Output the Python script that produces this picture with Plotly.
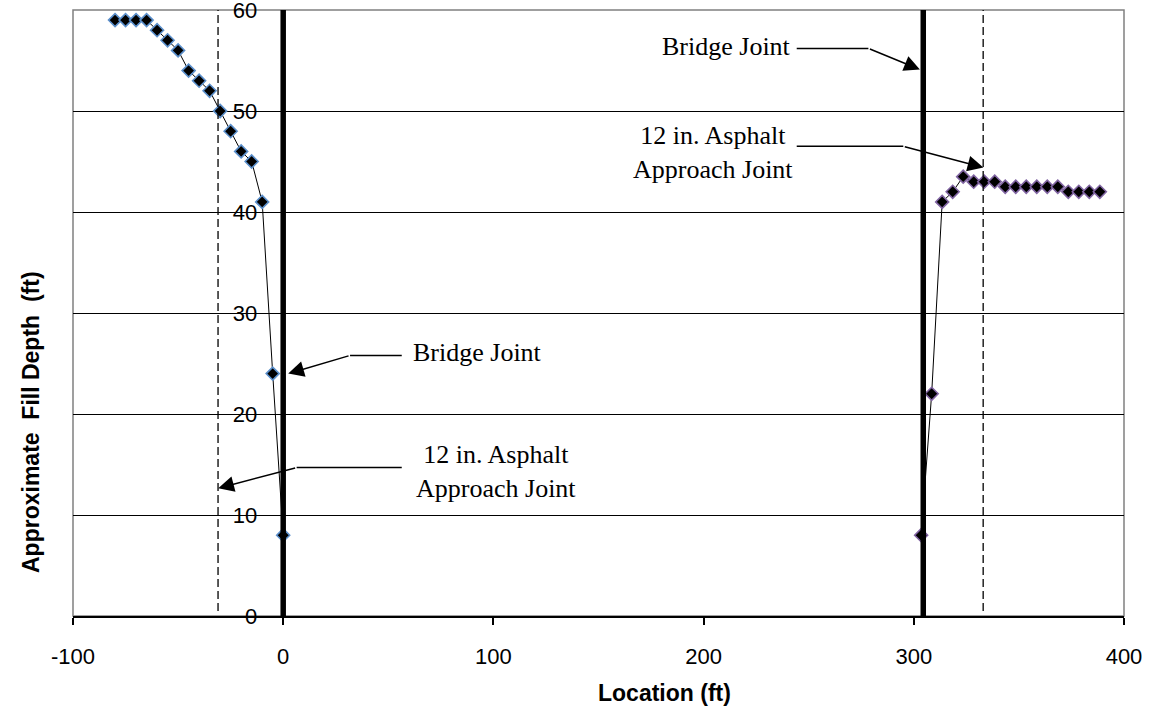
import plotly.graph_objects as go

# ---- data ----
left_x = [-80, -75, -70, -65, -60, -55, -50, -45, -40, -35, -30, -25, -20, -15, -10, -5, 0]
left_y = [59, 59, 59, 59, 58, 57, 56, 54, 53, 52, 50, 48, 46, 45, 41, 24, 8]
right_x = [303.5, 308.5, 313.5, 318.5, 323.5, 328.5, 333.5, 338.5, 343.5, 348.5,
           353.5, 358.5, 363.5, 368.5, 373.5, 378.5, 383.5, 388.5]
right_y = [8, 22, 41, 42, 43.5, 43, 43, 43, 42.5, 42.5, 42.5, 42.5, 42.5, 42.5, 42, 42, 42, 42]

bridge_joints = [0, 304.5]
asphalt_joints = [-31, 333]

x_ticks = [-100, 0, 100, 200, 300, 400]
x_tick_text = ["-100", "0", "100", "200", "300", "400"]
y_ticks = [0, 10, 20, 30, 40, 50, 60]

fig = go.Figure()

fig.add_trace(go.Scatter(
    x=left_x, y=left_y, mode="lines+markers",
    line=dict(color="black", width=1),
    marker=dict(symbol="diamond", size=10, color="black",
                line=dict(color="#5B8FCB", width=1.6)),
    showlegend=False))
fig.add_trace(go.Scatter(
    x=right_x, y=right_y, mode="lines+markers",
    line=dict(color="black", width=1),
    marker=dict(symbol="diamond", size=10, color="black",
                line=dict(color="#8064A2", width=1.6)),
    showlegend=False))

shapes = []
# plot area border (grey)
shapes.append(dict(type="rect", xref="paper", yref="paper", x0=0, x1=1, y0=0, y1=1,
                   line=dict(color="#808080", width=1.5), layer="below"))
for bx in bridge_joints:
    shapes.append(dict(type="line", xref="x", yref="y", x0=bx, x1=bx, y0=-0.3, y1=60,
                       line=dict(color="black", width=5.5)))
for ax in asphalt_joints:
    shapes.append(dict(type="line", xref="x", yref="y", x0=ax, x1=ax, y0=0.5, y1=60,
                       line=dict(color="black", width=1.3, dash="8px,4px")))

# leader horizontal segments
leaders = [
    (31.8, 56.4, 25.8),
    (6.4, 56.4, 14.7),
    (244.3, 278.4, 56.2),
    (244.3, 295.0, 46.5),
]
for x0, x1, yy in leaders:
    shapes.append(dict(type="line", xref="x", yref="y", x0=x0, x1=x1, y0=yy, y1=yy,
                       line=dict(color="black", width=1.5)))

annotations = []
arrows = [
    # (tip x, tip y, tail x, tail y)
    (2.4, 24.0, 31.8, 25.8),
    (-30.9, 12.65, 6.4, 14.7),
    (302.9, 54.1, 278.4, 56.2),
    (333.1, 44.4, 295.0, 46.5),
]
for tx, ty, sx, sy in arrows:
    annotations.append(dict(x=tx, y=ty, ax=sx, ay=sy, xref="x", yref="y",
                            axref="x", ayref="y", text="", showarrow=True,
                            arrowhead=2, arrowsize=2.1, arrowwidth=1.5,
                            arrowcolor="black", standoff=0, startstandoff=0))

serif = dict(family="Liberation Serif, Times New Roman, serif", size=26, color="black")
annotations += [
    dict(x=61, y=26.1, xref="x", yref="y", text="Bridge Joint", showarrow=False,
         xanchor="left", yanchor="middle", font=serif),
    dict(x=101.2, y=14.26, xref="x", yref="y", text="12 in. Asphalt<br>Approach Joint",
         showarrow=False, xanchor="center", yanchor="middle", font=serif, align="center"),
    dict(x=242.6, y=56.4, xref="x", yref="y", text="Bridge Joint", showarrow=False,
         xanchor="right", yanchor="middle", font=serif),
    dict(x=204.5, y=45.9, xref="x", yref="y", text="12 in. Asphalt<br>Approach Joint",
         showarrow=False, xanchor="center", yanchor="middle", font=serif, align="center"),
    dict(x=(31 - 73) / 1051, y=(616 - 422) / 606, xref="paper", yref="paper",
         text="<b>Approximate\u00a0 Fill Depth\u00a0 (ft)</b>",
         textangle=-90, showarrow=False, xanchor="center", yanchor="middle",
         font=dict(family="Liberation Sans, Arial, sans-serif", size=23, color="black")),
    dict(x=(596 - 73) / 1051, y=-(693 - 616) / 606, xref="paper", yref="paper",
         text="<b>Location (ft)</b>", showarrow=False, xanchor="left", yanchor="middle",
         font=dict(family="Liberation Sans, Arial, sans-serif", size=23, color="black")),
]

fig.update_layout(
    width=1152, height=712,
    margin=dict(l=73, r=28, t=10, b=96, autoexpand=False),
    paper_bgcolor="white", plot_bgcolor="white",
    font=dict(family="Liberation Sans, Arial, sans-serif", size=22, color="black"),
    shapes=shapes, annotations=annotations,
    xaxis=dict(range=[-100, 400], tickvals=x_ticks, ticktext=x_tick_text,
               ticks="outside", ticklen=7, automargin=False,
               tickcolor="black", tickwidth=1.5, showgrid=False, zeroline=False,
               showline=True, linecolor="black", linewidth=2,
               ticklabelstandoff=13),
    yaxis=dict(range=[-0.0001, 60.0001], tickvals=y_ticks, ticks="", anchor="free",
               position=0.2, showgrid=True, gridcolor="black", gridwidth=1.3,
               zeroline=False, showline=False, ticklabelstandoff=26,
               ticklabeloverflow="allow", automargin=False),
)

fig.write_html("out.html",
               config={"displayModeBar": False},
               post_script="document.body.style.margin='0px';document.body.style.overflow='hidden';")
